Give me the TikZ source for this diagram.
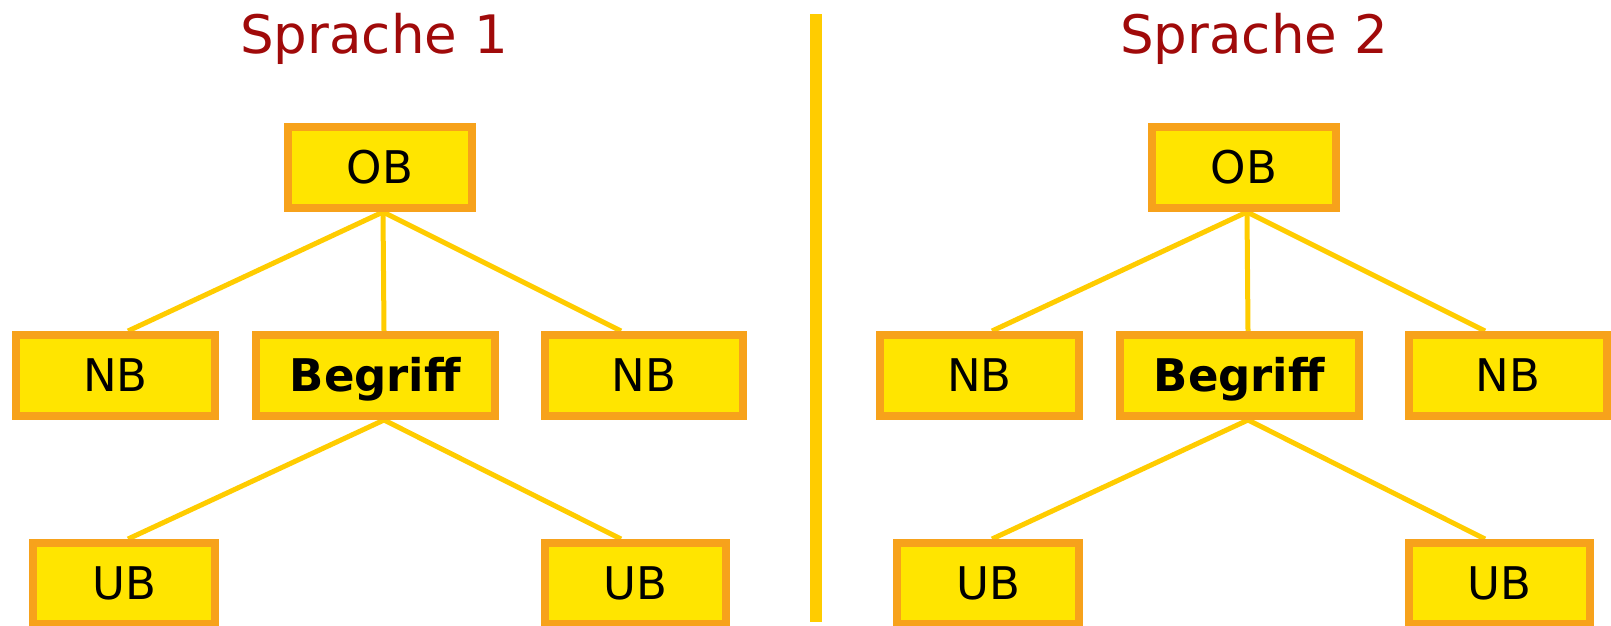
\documentclass[tikz,border=0pt]{standalone}
\usepackage{fontspec}
\setmainfont{DejaVu Sans}
\usetikzlibrary{backgrounds}
\definecolor{boxorange}{RGB}{247,162,27}
\definecolor{boxyellow}{RGB}{255,229,0}
\definecolor{linegold}{RGB}{255,204,0}
\definecolor{titlered}{RGB}{160,10,10}
\begin{document}
\begin{tikzpicture}[x=1pt,y=-1pt,
  box/.style={draw=boxorange, fill=boxyellow, line width=8pt, inner sep=0pt,
    minimum height=81pt, text height=32pt, text depth=0pt,
    font=\fontsize{45}{52}\selectfont},
  conn/.style={draw=linegold, line width=5pt},
  divider/.style={draw=linegold, line width=12pt},
  titlestyle/.style={text=titlered, font=\fontsize{53}{60}\selectfont, anchor=base, inner sep=0pt}]
\useasboundingbox (0,0) rectangle (1611,625);
\node[titlestyle] (t1) at (374,53) {Sprache 1};
\node[titlestyle] (t2) at (1254,53) {Sprache 2};
\coordinate (dtop) at (816,14);
\coordinate (dbot) at (816,622);
\draw[divider] (dtop) -- (dbot);
\foreach \s/\dx in {L/0,R/864}{
  \node[box, minimum width=184pt] (OB\s) at (380+\dx,167.5) {OB};
  \node[box, minimum width=199pt] (NBa\s) at (115.5+\dx,375.5) {NB};
  \node[box, minimum width=239pt] (BG\s) at (375.5+\dx,375.5) {\textbf{Begriff}};
  \node[box, minimum width=198pt] (NBb\s) at (644+\dx,375.5) {NB};
  \node[box, minimum width=182pt] (UBa\s) at (124+\dx,583.5) {UB};
  \node[box, minimum width=181pt] (UBb\s) at (635.5+\dx,583.5) {UB};
  \begin{pgfonlayer}{background}
    \draw[conn] ([xshift=3pt]OB\s.south) -- ([xshift=12.5pt]NBa\s.north);
    \draw[conn] ([xshift=3pt]OB\s.south) -- ([xshift=8.5pt]BG\s.north);
    \draw[conn] ([xshift=3pt]OB\s.south) -- ([xshift=-23pt]NBb\s.north);
    \draw[conn] ([xshift=8.5pt]BG\s.south) -- ([xshift=4pt]UBa\s.north);
    \draw[conn] ([xshift=8.5pt]BG\s.south) -- ([xshift=-14.5pt]UBb\s.north);
  \end{pgfonlayer}
}
\end{tikzpicture}
\end{document}
